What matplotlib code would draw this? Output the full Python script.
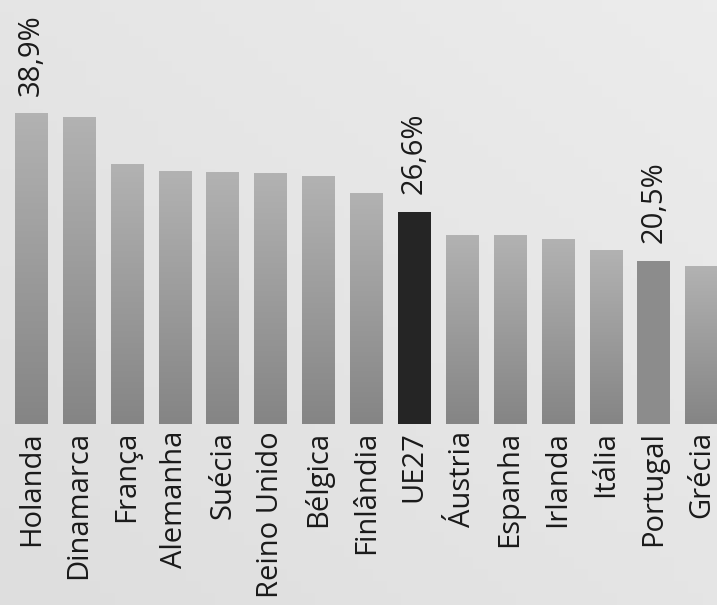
import numpy as np
import matplotlib
matplotlib.use('Agg')
import matplotlib.pyplot as plt
from matplotlib.colors import LinearSegmentedColormap

# dados (%)
paises = ["Holanda", "Dinamarca", "França", "Alemanha", "Suécia", "Reino Unido",
          "Bélgica", "Finlândia", "UE27", "Áustria", "Espanha", "Irlanda",
          "Itália", "Portugal", "Grécia"]
valores = [38.9, 38.5, 32.6, 31.7, 31.6, 31.4, 31.0, 28.9, 26.6, 23.7, 23.6,
           23.2, 21.8, 20.5, 19.8]
rotulos = {"Holanda": "38,9%", "UE27": "26,6%", "Portugal": "20,5%"}

plt.rcParams['font.family'] = ['Open Sans', 'DejaVu Sans']

fig = plt.figure(figsize=(7.17, 6.05), dpi=100)
fig.patch.set_facecolor('#e6e6e6')

# fundo ligeiramente irregular (papel digitalizado)
bg = fig.add_axes([0, 0, 1, 1], zorder=-1)
gx, gy = np.meshgrid(np.linspace(0, 1, 50), np.linspace(0, 1, 50))
bg.imshow(0.5 * gx + 0.5 * gy, cmap=LinearSegmentedColormap.from_list('bg', ['#dedede', '#ececec']),
          extent=[0, 1, 0, 1], aspect='auto', origin='lower')
bg.axis('off')

base_px = 424
ax = fig.add_axes([0, (605 - base_px) / 605, 1, base_px / 605])
ax.patch.set_alpha(0)

grad_cmap = LinearSegmentedColormap.from_list('barra', ['#858585', '#b2b2b2'])
largura = 0.68
x = np.arange(len(paises))
for i, (p, v) in enumerate(zip(paises, valores)):
    x0, x1 = i - largura / 2, i + largura / 2
    if p == "UE27":
        ax.bar(i, v, width=largura, color='#252525', zorder=2)
    elif p == "Portugal":
        ax.bar(i, v, width=largura, color='#8c8c8c', zorder=2)
    else:
        g = np.linspace(0, 1, 100).reshape(-1, 1)
        ax.imshow(g, cmap=grad_cmap, extent=[x0, x1, 0, v], aspect='auto',
                  origin='lower', zorder=2)
    if p in rotulos:
        ax.annotate(rotulos[p], (i, v), xytext=(0, 13), textcoords='offset points',
                    rotation=90, ha='center', va='bottom', fontsize=21, color='#1a1a1a')

ax.set_xlim(-0.65, 14.32)
ax.set_ylim(0, base_px / 7.97)
ax.set_xticks(x)
ax.set_xticklabels(paises, rotation=90, fontsize=21, color='#1a1a1a')
ax.tick_params(axis='x', length=0, pad=5)
ax.set_yticks([])
for s in ax.spines.values():
    s.set_visible(False)

plt.savefig('out.png', dpi=100, facecolor=fig.get_facecolor())
